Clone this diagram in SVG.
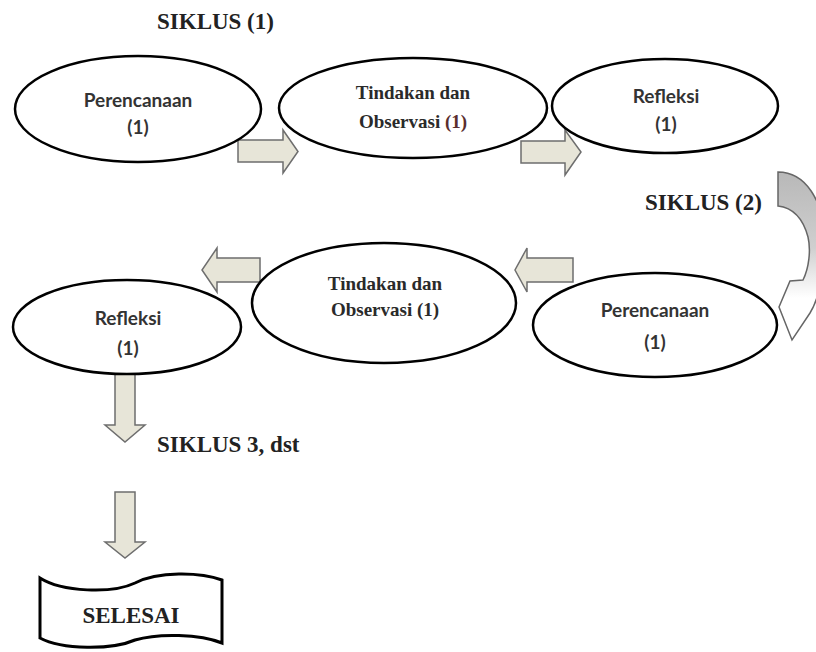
<svg xmlns="http://www.w3.org/2000/svg" width="816" height="652" viewBox="0 0 816 652">
<defs>
<linearGradient id="curveFill" x1="0" y1="0" x2="0" y2="1">
<stop offset="0" stop-color="#b8b8b8"/>
<stop offset="0.45" stop-color="#cfcfcf"/>
<stop offset="0.75" stop-color="#ffffff"/>
<stop offset="1" stop-color="#ffffff"/>
</linearGradient>
</defs>
<style>
.node ellipse{fill:#ffffff;stroke:#000;stroke-width:2.5}
.cal{font-family:Lato,"Liberation Sans",sans-serif;font-weight:700;font-size:19px;fill:#333;text-anchor:middle}
.tnr{font-family:"Liberation Serif","Times New Roman",serif;font-weight:700;font-size:19px;fill:#2a2a2a;text-anchor:middle}
.title{font-family:"Liberation Serif","Times New Roman",serif;font-weight:700;font-size:23px;fill:#222}
.blk{fill:#e7e5d8;stroke:#6e6e6e;stroke-width:1.5;stroke-linejoin:miter}
</style>
<rect width="816" height="652" fill="#ffffff"/>

<text class="title" x="157" y="29">SIKLUS (1)</text>
<text class="title" x="645" y="210">SIKLUS (2)</text>
<text class="title" x="157" y="452">SIKLUS 3, dst</text>

<g id="connectors">
<polygon class="blk" points="238,140 283,140 283,130 298,151.5 283,173 283,162 238,162"/>
<polygon class="blk" points="521,141 565,141 565,130 581,152 565,175 565,163 521,163"/>
<polygon class="blk" points="260,258 217,258 217,248 202,270 217,292 217,282 260,282"/>
<polygon class="blk" points="573,258 527,258 527,248 515,270 527,292 527,282 573,282"/>
<polygon class="blk" points="115,372 135,372 135,425 145,425 125,442 105,425 115,425"/>
<polygon class="blk" points="115,492 135,492 135,542 145,542 125,558 105,542 115,542"/>
<path d="M778,172 C805,172 824,200 824,240 C824,275 818,300 810,313 L792,340 L779,307 L790,281 L803,280 C809,268 811,250 808,237 C804,222 795,208 778,206 Z" fill="url(#curveFill)" stroke="#666" stroke-width="1.5" stroke-linejoin="miter"/>
</g>

<g id="n1" class="node">
<ellipse cx="138" cy="109" rx="123" ry="53"/>
<text class="cal" x="138" y="107">Perencanaan</text>
<text class="cal" x="138" y="134">(1)</text>
</g>
<g id="n2" class="node">
<ellipse cx="413" cy="108" rx="134" ry="50"/>
<text class="tnr" x="413" y="99">Tindakan dan</text>
<text class="tnr" x="413" y="128">Observasi <tspan fill="#5a2e2e">(1)</tspan></text>
</g>
<g id="n3" class="node">
<ellipse cx="665" cy="106" rx="113" ry="47"/>
<text class="cal" x="666" y="103">Refleksi</text>
<text class="cal" x="666" y="131">(1)</text>
</g>
<g id="n4" class="node">
<ellipse cx="655" cy="325" rx="122" ry="52"/>
<text class="cal" x="655" y="317">Perencanaan</text>
<text class="cal" x="655" y="349">(1)</text>
</g>
<g id="n5" class="node">
<ellipse cx="384" cy="303" rx="132" ry="60"/>
<text class="tnr" x="385" y="290">Tindakan dan</text>
<text class="tnr" x="385" y="316">Observasi (1)</text>
</g>
<g id="n6" class="node">
<ellipse cx="127" cy="327" rx="114" ry="47"/>
<text class="cal" x="128" y="325">Refleksi</text>
<text class="cal" x="128" y="355">(1)</text>
</g>
<g id="n7">
<path d="M40,578 C62,592 112,594 135,583 C158,571 200,572 222,580 L222,643 C200,634 158,633 135,640 C112,650 62,650 40,638 Z" fill="#ffffff" stroke="#000" stroke-width="3"/>
<text class="title" x="131" y="623" text-anchor="middle">SELESAI</text>
</g>
</svg>
